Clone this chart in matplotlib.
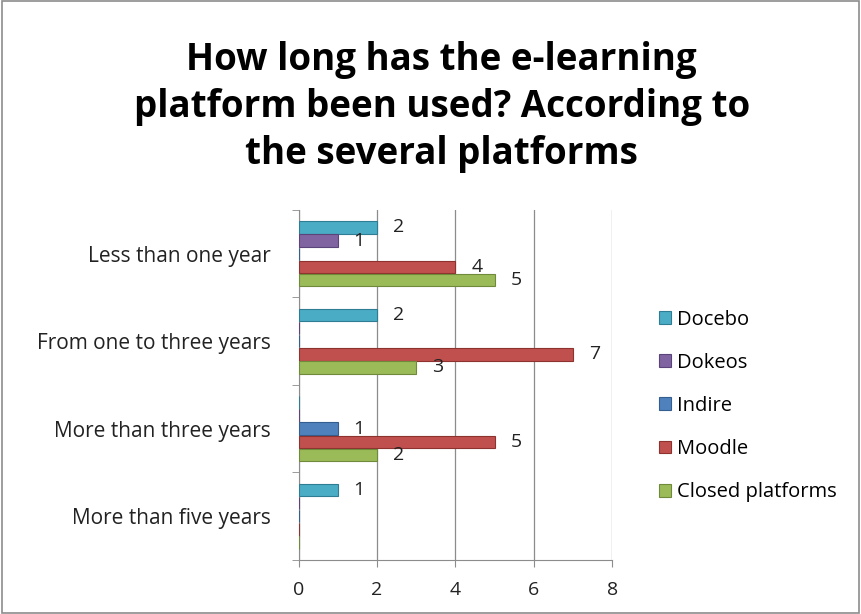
import numpy as np
import matplotlib
matplotlib.use('Agg')
from matplotlib import pyplot as plt
from matplotlib.patches import Rectangle

plt.rcParams['font.family'] = ['Open Sans', 'DejaVu Sans']

categories = ['Less than one year', 'From one to three years',
              'More than three years', 'More than five years']
series = ['Docebo', 'Dokeos', 'Indire', 'Moodle', 'Closed platforms']
docebo = [2, 2, 0, 1]
dokeos = [1, 0, 0, 0]
indire = [0, 0, 1, 0]
moodle = [4, 7, 5, 0]
closed = [5, 3, 2, 0]
xticks = [0, 2, 4, 6, 8]

colors = ['#4BACC6', '#8064A2', '#4F81BD', '#C0504D', '#9BBB59']
edges = ['#2E7D92', '#5B4479', '#355E90', '#8E3230', '#6F8A3A']

fig = plt.figure(figsize=(8.61, 6.14), dpi=100, facecolor='w')
fig.patches.append(Rectangle((0.002, 0.002), 0.996, 0.996, transform=fig.transFigure,
                             fill=False, edgecolor='#8c8c8c', linewidth=1.2))
ax = fig.add_axes([0.347, 0.088, 0.364, 0.570])

values = [docebo, dokeos, indire, moodle, closed]
h = 0.15
y = np.arange(len(categories))
for i, name in enumerate(series):
    pos = y + (i - 2) * h
    ax.barh(pos, values[i], height=h * 0.95, color=colors[i], edgecolor=edges[i],
            linewidth=0.8, label=name, zorder=3)
    for p, v in zip(pos, values[i]):
        if v > 0:
            ax.text(v + 0.4, p, str(v), va='center', ha='left', fontsize=14,
                    color='#222222')

ax.set_xlim(0, 8)
ax.set_ylim(len(categories) - 0.5, -0.5)
ax.set_xticks(xticks)
ax.set_xticklabels([str(t) for t in xticks], fontsize=14, color='#222222')
ax.xaxis.grid(True, color='#8c8c8c', linewidth=0.9, zorder=0)
ax.set_yticks(y)
ax.set_yticklabels(categories, fontsize=15, color='#222222')
ax.tick_params(axis='y', length=0, pad=20)
ax.set_yticks(np.arange(-0.5, len(categories), 1.0), minor=True)
ax.tick_params(axis='y', which='minor', length=5, color='#8c8c8c')
ax.tick_params(axis='x', length=5, color='#8c8c8c', pad=10)
for s in ['top', 'right']:
    ax.spines[s].set_visible(False)
for s in ['left', 'bottom']:
    ax.spines[s].set_color('#8c8c8c')

fig.text(0.513, 0.826, 'How long has the e-learning\nplatform been used? According to\nthe several platforms',
         ha='center', va='center', fontsize=26.5, fontweight='bold', linespacing=1.3)

ax.legend(loc='center left', bbox_to_anchor=(1.09, 0.44), frameon=False, fontsize=14.5,
          handlelength=0.6, handleheight=0.6, labelspacing=1.15, handletextpad=0.3)

plt.savefig('out.png', dpi=100)
